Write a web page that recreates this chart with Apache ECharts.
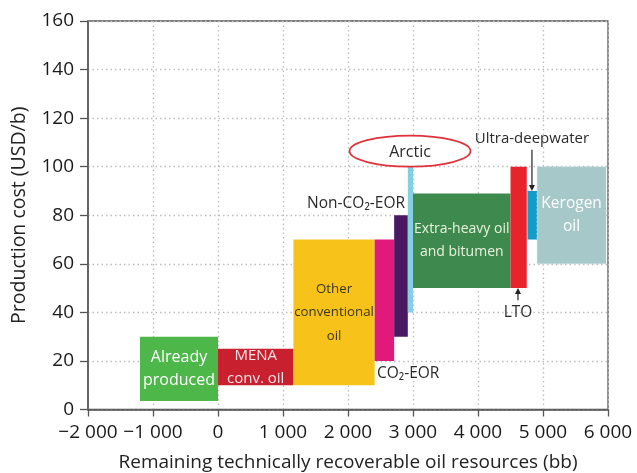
<!DOCTYPE html>
<html><head><meta charset="utf-8">
<script src="https://cdn.jsdelivr.net/npm/echarts@6/dist/echarts.min.js"></script>
<style>html,body{margin:0;padding:0;background:#fff}#c{width:637px;height:473px}</style>
</head><body><div id="c"></div><script>
// ---- data ----
const categories = ['Already produced','MENA conv. oil','Other conventional oil','CO₂-EOR','Non-CO₂-EOR','Arctic','Extra-heavy oil and bitumen','LTO','Ultra-deepwater','Kerogen oil'];
const resourceStart = [-1200, 0, 1160, 2410, 2710, 2920, 3000, 4500, 4760, 4910];
const resourceEnd   = [0, 1160, 2410, 2710, 2920, 3000, 4500, 4750, 4910, 5970];
const costLow  = [3.5, 10, 10, 20, 30, 40, 50, 50, 70, 60];
const costHigh = [30, 25, 70, 70, 80, 100, 89, 100, 90, 100];
const boxLabels = ['Already\nproduced','MENA\nconv. oil','Other\nconventional\noil','','','','Extra-heavy oil\nand bitumen','','','Kerogen\noil'];
const xTicks = [-2000,-1000,0,1000,2000,3000,4000,5000,6000];
const yTicks = [0,20,40,60,80,100,120,140,160];

// ---- styles ----
const colors = ['#4db74a','#c8202f','#f7c31b','#e0197a','#4a1962','#84d0df','#3e8a4e','#e8232b','#149cc8','#a6c8c9'];
const labelColors = ['#ffffff','#fbe3e6','#3b3620','','','','#e8f2dc','','','#ffffff'];
const labelSizes = [16, 15, 13.3, 0, 0, 0, 14, 0, 0, 15.5];
const FONT = '"Open Sans", "DejaVu Sans", sans-serif';

const annotations = [
  {text:'Non-CO₂-EOR', x:2877, y:85, align:'right', size:15.5},
  {text:'CO₂-EOR', x:2446, y:15, align:'left', size:15.5},
  {text:'Arctic', x:2954, y:106, align:'center', size:16, ellipse:true},
  {text:'Ultra-deepwater', x:4830, y:111.7, align:'center', size:15},
  {text:'LTO', x:4615, y:40, align:'center', size:15.5}
];
const arrows = [[4830,107,4830,90],[4615,45,4615,50]];

function fmt(v){
  const a = Math.abs(v);
  let s = a >= 1000 ? Math.floor(a/1000) + ' ' + String(a%1000).padStart(3,'0') : String(a);
  return (v < 0 ? '−' : '') + s;
}

const boxData = categories.map((c,i)=>[resourceStart[i], resourceEnd[i], costLow[i], costHigh[i]]);

const chart = echarts.init(document.getElementById('c'));
chart.setOption({
  animation:false,
  backgroundColor:'#fff',
  grid:{left:88, right:29, top:21, bottom:63.5, show:true, borderColor:'#555', borderWidth:1.3, containLabel:false, outerBoundsMode:'none'},
  xAxis:{
    type:'value', min:xTicks[0], max:xTicks[xTicks.length-1], interval:1000,
    name:'Remaining technically recoverable oil resources (bb)', nameLocation:'middle', nameGap:44,
    nameTextStyle:{fontFamily:FONT, fontSize:19, color:'#222'},
    axisLine:{show:true, onZero:false, lineStyle:{color:'#555', width:1.5}},
    axisTick:{show:true, length:7, lineStyle:{color:'#555', width:1.3}},
    axisLabel:{formatter:fmt, fontFamily:FONT, fontSize:19, color:'#1a1a1a', margin:14, showMinLabel:true, showMaxLabel:true},
    splitLine:{show:true, lineStyle:{color:'#bdbdbd', type:[1.5,3], width:1.3}}
  },
  yAxis:{
    type:'value', min:yTicks[0], max:yTicks[yTicks.length-1], interval:20,
    name:'Production cost (USD/b)', nameLocation:'middle', nameGap:59,
    nameTextStyle:{fontFamily:FONT, fontSize:19.5, color:'#222'},
    axisLine:{show:true, onZero:false, lineStyle:{color:'#555', width:1.5}},
    axisTick:{show:true, length:8, lineStyle:{color:'#555', width:1.3}},
    axisLabel:{fontFamily:FONT, fontSize:19, color:'#1a1a1a', margin:14},
    splitLine:{show:true, lineStyle:{color:'#bdbdbd', type:[1.5,3], width:1.3}}
  },
  series:[
    {
      type:'custom', name:'resources', data:boxData, encode:{x:[0,1], y:[2,3]},
      renderItem:function(params, api){
        const i = params.dataIndex;
        const p0 = api.coord([api.value(0), api.value(3)]);
        const p1 = api.coord([api.value(1), api.value(2)]);
        const ch = [{type:'rect', shape:{x:p0[0], y:p0[1], width:p1[0]-p0[0], height:p1[1]-p0[1]},
          style:{fill:colors[i], stroke: i===9 ? '#c9dcdc' : null, lineWidth: i===9 ? 1 : 0, lineDash: i===9 ? [2,2] : null}}];
        if (boxLabels[i]) {
          ch.push({type:'text', style:{text:boxLabels[i], x:(p0[0]+p1[0])/2, y:(p0[1]+p1[1])/2,
            align:'center', verticalAlign:'middle', textAlign:'center', textVerticalAlign:'middle',
            fill:labelColors[i], font:labelSizes[i] + 'px ' + FONT, lineHeight:23.5}});
        }
        return {type:'group', children:ch};
      }
    },
    {
      type:'custom', name:'annotations', data:annotations.map(a=>[a.x, a.y]), encode:{x:0, y:1}, z:5,
      renderItem:function(params, api){
        const a = annotations[params.dataIndex];
        const p = api.coord([a.x, a.y]);
        const ch = [];
        if (a.ellipse) {
          ch.push({type:'ellipse', shape:{cx:p[0], cy:p[1]-1, rx:60.5, ry:15.5}, style:{fill:'#fff', stroke:'#e0303a', lineWidth:1.7}});
        }
        ch.push({type:'text', style:{text:a.text, x:p[0], y:p[1], align:a.align, verticalAlign:'middle',
          textAlign:a.align, textVerticalAlign:'middle', fill:'#2a2a2a', font:a.size + 'px ' + FONT}});
        return {type:'group', children:ch};
      }
    },
    {
      type:'custom', name:'arrows', data:arrows, encode:{x:[0,2], y:[1,3]}, z:5,
      renderItem:function(params, api){
        const s = api.coord([api.value(0), api.value(1)]);
        const e = api.coord([api.value(2), api.value(3)]);
        const dir = e[1] > s[1] ? 1 : -1;
        return {type:'group', children:[
          {type:'line', shape:{x1:s[0], y1:s[1], x2:e[0], y2:e[1]-dir*4}, style:{stroke:'#222', lineWidth:1.2}},
          {type:'polygon', shape:{points:[[e[0],e[1]],[e[0]-3,e[1]-dir*6],[e[0]+3,e[1]-dir*6]]}, style:{fill:'#222'}}
        ]};
      }
    }
  ]
});
</script></body></html>
